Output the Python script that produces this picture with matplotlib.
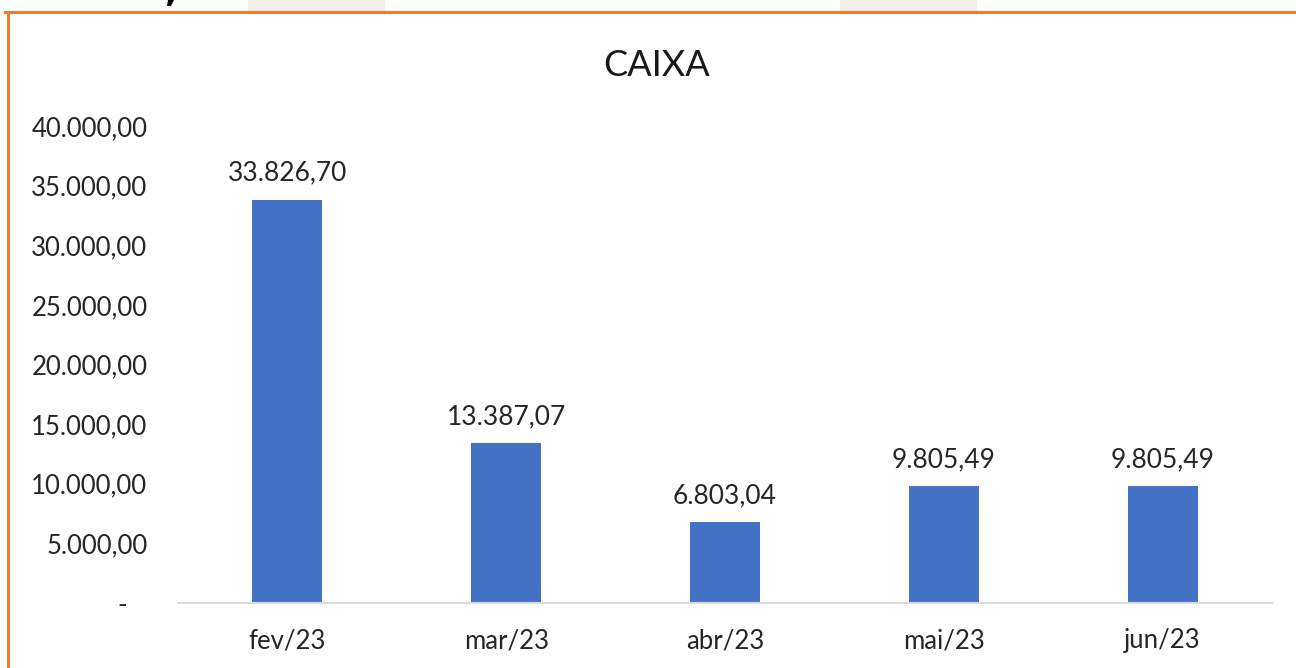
import matplotlib
matplotlib.use("Agg")
import matplotlib.pyplot as plt
from matplotlib.patches import Rectangle, Polygon
from matplotlib.lines import Line2D
from matplotlib.ticker import FixedLocator

categories = ["fev/23", "mar/23", "abr/23", "mai/23", "jun/23"]
values = [33826.70, 13387.07, 6803.04, 9805.49, 9805.49]
value_labels = ["33.826,70", "13.387,07", "6.803,04", "9.805,49", "9.805,49"]
yticks = [0, 5000, 10000, 15000, 20000, 25000, 30000, 35000, 40000]
ytick_labels = ["-   ", "5.000,00", "10.000,00", "15.000,00", "20.000,00",
                "25.000,00", "30.000,00", "35.000,00", "40.000,00"]
title = "CAIXA"

plt.rcParams['font.family'] = ['Lato', 'DejaVu Sans']
W, H = 1296, 668
fig = plt.figure(figsize=(W / 100, H / 100), dpi=100)
fig.patch.set_facecolor("white")

# decorative screenshot remnants: beige tabs, glyph fragment and orange frame
for x0, x1 in [(248, 385), (840, 977)]:
    fig.patches.append(Rectangle((x0 / W, 1 - 11 / H), (x1 - x0) / W, 11 / H,
                                 transform=fig.transFigure, facecolor="#F3EEE9",
                                 edgecolor="none", zorder=0))
fig.patches.append(Polygon([(168 / W, 1), (174 / W, 1), (171 / W, 1 - 6 / H), (167 / W, 1 - 6 / H)],
                           closed=True, transform=fig.transFigure, facecolor="black",
                           edgecolor="none"))
fig.lines.append(Line2D([5 / W, 1], [1 - 11.5 / H, 1 - 11.5 / H], transform=fig.transFigure,
                        color="#ED7D31", lw=2.2))
fig.lines.append(Line2D([8 / W, 8 / W], [0, 1 - 11.5 / H], transform=fig.transFigure,
                        color="#ED7D31", lw=2.2))

text_color = "#262626"
ax = fig.add_axes([178 / W, 1 - 603 / H, (1272 - 178) / W, (603 - 126) / H])
x = list(range(len(categories)))
ax.bar(x, values, width=0.32, color="#4472C4", zorder=2)
ax.set_xlim(-0.5, len(categories) - 0.5)
ax.set_ylim(0, 40000)
ax.yaxis.set_major_locator(FixedLocator(yticks))
ax.set_yticklabels(ytick_labels)
ax.set_xticks(x)
ax.set_xticklabels(categories)
for s in ["top", "right", "left"]:
    ax.spines[s].set_visible(False)
ax.spines["bottom"].set_color("#D9D9D9")
ax.spines["bottom"].set_linewidth(1.5)
ax.tick_params(axis="both", length=0, labelsize=18.5, colors=text_color)
ax.tick_params(axis="y", pad=22)
ax.tick_params(axis="x", pad=18)

for xi, v, lab in zip(x, values, value_labels):
    ax.annotate(lab, (xi, v), xytext=(0, 10), textcoords="offset points",
                ha="center", va="bottom", fontsize=19, color=text_color)

fig.text(657 / W, 1 - 65 / H, title, fontsize=26, color="#1a1a1a", ha="center", va="center")

fig.savefig("out.png", dpi=100, facecolor="white")
